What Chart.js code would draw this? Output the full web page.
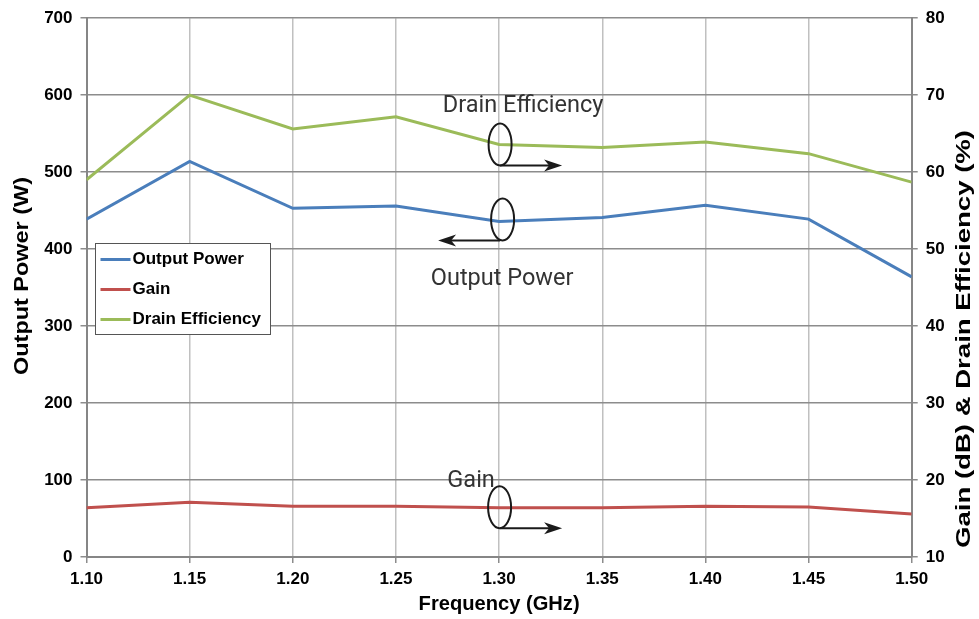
<!DOCTYPE html>
<html>
<head>
<meta charset="utf-8">
<script src="https://cdn.jsdelivr.net/npm/chart.js@4.4.1/dist/chart.umd.min.js"></script>
<style>
  html, body { margin: 0; padding: 0; background: #fff; }
  #wrap { position: relative; width: 979px; height: 619px; }
</style>
</head>
<body>
<div id="wrap"><canvas id="c"></canvas></div>
<script>
// ---- data ----
const frequencies = [1.10, 1.15, 1.20, 1.25, 1.30, 1.35, 1.40, 1.45, 1.50];
const outputPower = [439, 514, 453, 456, 436, 441, 457, 439, 364];          // W (left axis)
const gain = [16.4, 17.1, 16.6, 16.6, 16.4, 16.4, 16.6, 16.5, 15.6];        // dB (right axis)
const drainEfficiency = [59.0, 70.0, 65.6, 67.2, 63.6, 63.2, 63.9, 62.4, 58.7]; // % (right axis)
const leftTicks = [0, 100, 200, 300, 400, 500, 600, 700];
const rightTicks = [10, 20, 30, 40, 50, 60, 70, 80];
const xTicks = [1.10, 1.15, 1.20, 1.25, 1.30, 1.35, 1.40, 1.45, 1.50];

const seriesNames = ['Output Power', 'Gain', 'Drain Efficiency'];
const seriesColors = ['#4A7EBB', '#C0504D', '#9BBB59'];
const axisTitles = { x: 'Frequency (GHz)', y: 'Output Power (W)', y1: 'Gain (dB) & Drain Efficiency (%)' };

const toPts = (vals) => frequencies.map((f, i) => ({ x: f, y: vals[i] }));

// callouts: ellipse + arrow anchored to each series point at 1.30 GHz
const annotations = [
  { series: 2, at: 1.30, text: 'Drain Efficiency', textDx: 24, textDy: -38, ellDx: 1, ellDy: 0, dir: 1 },
  { series: 0, at: 1.30, text: 'Output Power', textDx: 3, textDy: 58, ellDx: 3.5, ellDy: -2, dir: -1 },
  { series: 1, at: 1.30, text: 'Gain', textDx: -28, textDy: -27, ellDx: 0.5, ellDy: -0.5, dir: 1 }
];

const FONT = '"Liberation Sans", Arial, sans-serif';

const titlePlugin = {
  id: 'axisTitles',
  afterDraw(chart) {
    const ctx = chart.ctx;
    const ca = chart.chartArea;
    const items = [
      { text: axisTitles.x, cx: (ca.left + ca.right) / 2, cy: 604, rot: 0, len: 161 },
      { text: axisTitles.y, cx: 22, cy: 276, rot: -Math.PI / 2, len: 198 },
      { text: axisTitles.y1, cx: 964, cy: 339, rot: -Math.PI / 2, len: 418 }
    ];
    ctx.save();
    ctx.fillStyle = '#000';
    ctx.font = 'bold 20px ' + FONT;
    ctx.textAlign = 'center';
    ctx.textBaseline = 'middle';
    items.forEach(it => {
      const w = ctx.measureText(it.text).width;
      ctx.save();
      ctx.translate(it.cx, it.cy);
      ctx.rotate(it.rot);
      ctx.scale(it.len / w, 1);
      ctx.fillText(it.text, 0, 0);
      ctx.restore();
    });
    ctx.restore();
  }
};

const legendPlugin = {
  id: 'insideLegend',
  afterDraw(chart) {
    const ctx = chart.ctx;
    const x0 = 95.5, y0 = 243.5, w = 175, h = 91;
    ctx.save();
    ctx.fillStyle = '#fff';
    ctx.fillRect(x0, y0, w, h);
    ctx.strokeStyle = '#555';
    ctx.lineWidth = 1;
    ctx.strokeRect(x0, y0, w, h);
    chart.data.datasets.forEach((ds, i) => {
      const y = 259.5 + i * 30;
      ctx.strokeStyle = ds.borderColor;
      ctx.lineWidth = 3;
      ctx.beginPath();
      ctx.moveTo(100.5, y);
      ctx.lineTo(130.5, y);
      ctx.stroke();
      ctx.fillStyle = '#000';
      ctx.font = 'bold 17px ' + FONT;
      ctx.textBaseline = 'middle';
      ctx.textAlign = 'left';
      ctx.fillText(ds.label, 132.5, y);
    });
    ctx.restore();
  }
};

const annotationPlugin = {
  id: 'callouts',
  afterDatasetsDraw(chart) {
    const ctx = chart.ctx;
    const xs = chart.scales.x;
    ctx.save();
    annotations.forEach(a => {
      const ds = chart.data.datasets[a.series];
      const ys = chart.scales[ds.yAxisID];
      const idx = frequencies.indexOf(a.at);
      const px = xs.getPixelForValue(a.at);
      const py = ys.getPixelForValue(ds.data[idx].y);
      const cx = px + a.ellDx, cy = py + a.ellDy;
      const rx = 11.5, ry = 21;
      ctx.strokeStyle = '#1a1a1a';
      ctx.lineWidth = 2;
      ctx.beginPath();
      ctx.ellipse(cx, cy, rx, ry, 0, 0, Math.PI * 2);
      ctx.stroke();
      const sx = px + 1, sy = cy + ry;
      const ex = sx + a.dir * 62;
      ctx.beginPath();
      ctx.moveTo(sx, sy);
      ctx.lineTo(ex - a.dir * 12, sy);
      ctx.stroke();
      ctx.fillStyle = '#1a1a1a';
      ctx.beginPath();
      ctx.moveTo(ex, sy);
      ctx.lineTo(ex - a.dir * 18, sy - 6);
      ctx.lineTo(ex - a.dir * 13, sy);
      ctx.lineTo(ex - a.dir * 18, sy + 6);
      ctx.closePath();
      ctx.fill();
      ctx.fillStyle = '#333';
      ctx.font = '23.5px Roboto, sans-serif';
      ctx.textAlign = 'center';
      ctx.textBaseline = 'middle';
      ctx.fillText(a.text, px + a.textDx, py + a.textDy);
    });
    ctx.restore();
  }
};

new Chart(document.getElementById('c'), {
  type: 'line',
  data: {
    datasets: [
      { label: seriesNames[0], data: toPts(outputPower), yAxisID: 'y', borderColor: seriesColors[0], backgroundColor: seriesColors[0] },
      { label: seriesNames[1], data: toPts(gain), yAxisID: 'y1', borderColor: seriesColors[1], backgroundColor: seriesColors[1] },
      { label: seriesNames[2], data: toPts(drainEfficiency), yAxisID: 'y1', borderColor: seriesColors[2], backgroundColor: seriesColors[2] }
    ]
  },
  options: {
    responsive: true,
    maintainAspectRatio: false,
    animation: false,
    devicePixelRatio: 1,
    layout: { padding: { top: 13, left: 0, right: 0, bottom: 0 } },
    elements: {
      line: { borderWidth: 3, tension: 0 },
      point: { radius: 0, hoverRadius: 0 }
    },
    plugins: { legend: { display: false }, tooltip: { enabled: false } },
    scales: {
      x: {
        type: 'linear',
        min: xTicks[0], max: xTicks[xTicks.length - 1],
        afterBuildTicks: (s) => { s.ticks = xTicks.map(v => ({ value: v })); },
        afterFit: (s) => { s.height = 62; },
        ticks: { callback: (v) => Number(v).toFixed(2), color: '#000', font: { family: FONT, size: 17, weight: 'bold' }, padding: 6, maxRotation: 0 },
        grid: { color: '#c0c0c0', lineWidth: 1.5, tickLength: 6, tickColor: '#8c8c8c' },
        border: { color: '#868686', width: 2 }
      },
      y: {
        position: 'left',
        min: leftTicks[0], max: leftTicks[leftTicks.length - 1],
        afterBuildTicks: (s) => { s.ticks = leftTicks.map(v => ({ value: v })); },
        afterFit: (s) => { s.width = 86.5; },
        ticks: { color: '#000', font: { family: FONT, size: 17, weight: 'bold' }, padding: 8 },
        grid: { color: '#8c8c8c', lineWidth: 1.5, tickLength: 6, tickColor: '#8c8c8c' },
        border: { color: '#868686', width: 2 }
      },
      y1: {
        position: 'right',
        min: rightTicks[0], max: rightTicks[rightTicks.length - 1],
        afterBuildTicks: (s) => { s.ticks = rightTicks.map(v => ({ value: v })); },
        afterFit: (s) => { s.width = 67.3; },
        ticks: { color: '#000', font: { family: FONT, size: 17, weight: 'bold' }, padding: 8 },
        grid: { drawOnChartArea: false, tickLength: 6, tickColor: '#8c8c8c', lineWidth: 1.5 },
        border: { color: '#868686', width: 2 }
      }
    }
  },
  plugins: [annotationPlugin, legendPlugin, titlePlugin]
});
</script>
</body>
</html>
